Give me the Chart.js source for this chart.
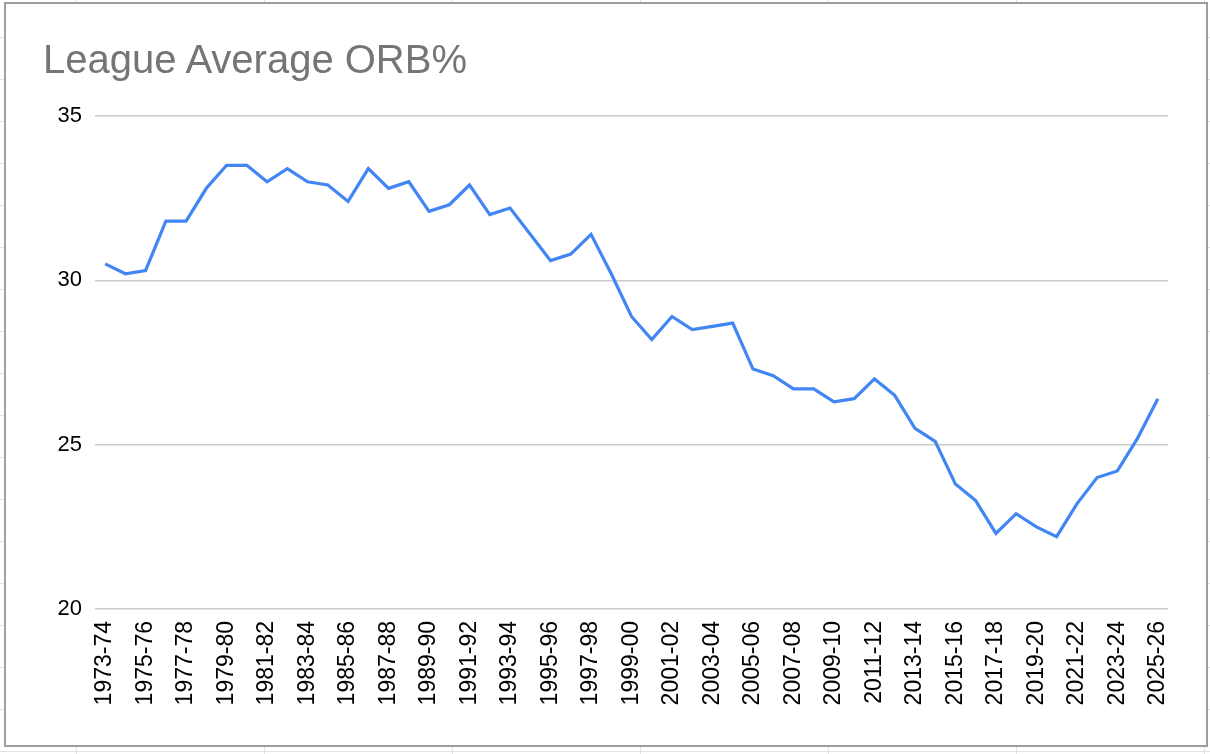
<!DOCTYPE html>
<html>
<head>
<meta charset="utf-8">
<script src="https://cdn.jsdelivr.net/npm/chart.js@4.4.1/dist/chart.umd.min.js"></script>
<style>
  html, body { margin: 0; padding: 0; }
  body {
    width: 1210px; height: 754px; overflow: hidden; position: relative;
    background-color: #fff;
    background-image:
      repeating-linear-gradient(to bottom, transparent 0, transparent 37px, #e2e2e2 37px, #e2e2e2 38px, transparent 38px, transparent 42px),
      repeating-linear-gradient(to right, transparent 0, transparent 76px, #e2e2e2 76px, #e2e2e2 77px, transparent 77px, transparent 188px);
  }
  #frame {
    position: absolute; left: 4px; top: 2px;
    width: 1200px; height: 741px;
    border: 2px solid #9e9e9e; background: #fff;
  }
  #title {
    position: absolute; left: 37px; top: 33px;
    font-family: "Liberation Sans", Arial, sans-serif;
    font-size: 40px; color: #757575; white-space: nowrap;
  }
  canvas { position: absolute; left: 0; top: 0; }
</style>
</head>
<body>
<div id="frame">
  <canvas id="orb" width="1200" height="741"></canvas>
  <div id="title">League Average ORB%</div>
</div>
<script>
// seasons 1973-74 .. 2025-26
const seasons = ['1973-74','1974-75','1975-76','1976-77','1977-78','1978-79','1979-80','1980-81','1981-82','1982-83',
  '1983-84','1984-85','1985-86','1986-87','1987-88','1988-89','1989-90','1990-91','1991-92','1992-93',
  '1993-94','1994-95','1995-96','1996-97','1997-98','1998-99','1999-00','2000-01','2001-02','2002-03',
  '2003-04','2004-05','2005-06','2006-07','2007-08','2008-09','2009-10','2010-11','2011-12','2012-13',
  '2013-14','2014-15','2015-16','2016-17','2017-18','2018-19','2019-20','2020-21','2021-22','2022-23',
  '2023-24','2024-25','2025-26'];

const orbPct = [30.5,30.2,30.3,31.8,31.8,32.8,33.5,33.5,33.0,33.4,
  33.0,32.9,32.4,33.4,32.8,33.0,32.1,32.3,32.9,32.0,
  32.2,31.4,30.6,30.8,31.4,30.2,28.9,28.2,28.9,28.5,
  28.6,28.7,27.3,27.1,26.7,26.7,26.3,26.4,27.0,26.5,
  25.5,25.1,23.8,23.3,22.3,22.9,22.5,22.2,23.2,24.0,
  24.2,25.2,26.4];

const yTicks = [20, 25, 30, 35];

const fontFamily = '"Liberation Sans", Arial, sans-serif';

new Chart(document.getElementById('orb'), {
  type: 'line',
  data: {
    labels: seasons,
    datasets: [{
      label: 'League Average ORB%',
      data: orbPct,
      borderColor: '#4285f4',
      borderWidth: 3.2,
      pointRadius: 0,
      tension: 0,
      fill: false
    }]
  },
  options: {
    responsive: false,
    animation: false,
    devicePixelRatio: 1,
    layout: { padding: { top: 112, right: 38, left: 0, bottom: 0 } },
    plugins: { legend: { display: false }, tooltip: { enabled: false } },
    scales: {
      x: {
        offset: true,
        grid: { display: false, drawTicks: false },
        border: { display: false },
        ticks: {
          autoSkip: false,
          maxRotation: 90, minRotation: 90,
          padding: 12,
          color: '#000',
          font: { family: fontFamily, size: 23 },
          callback: (v, i) => i % 2 === 0 ? seasons[i] : ''
        },
        afterFit: s => { s.height = 136; }
      },
      y: {
        min: 20, max: 35,
        afterBuildTicks: s => { s.ticks = yTicks.map(v => ({ value: v })); },
        grid: { color: '#cccccc', lineWidth: 1.5, drawTicks: false },
        border: { display: false },
        ticks: { padding: 13, color: '#000', font: { family: fontFamily, size: 22 } },
        afterFit: s => { s.width = 89; }
      }
    }
  }
});
</script>
</body>
</html>
